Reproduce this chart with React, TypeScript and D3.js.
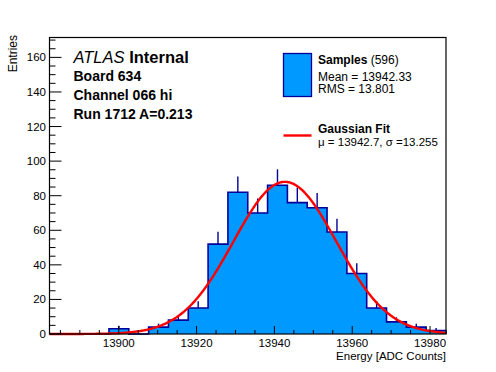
import * as d3 from 'd3';

// histogram contents, 20 equal bins across the axis range
const binCounts = [0, 0, 0, 3, 0, 4, 8, 15, 52, 82, 70, 86, 76, 73, 59, 35, 15, 7, 4, 2];
const xRange = [13882.2, 13984.1];
const xTickValues = [13900, 13920, 13940, 13960, 13980];
const yTickValues = [0, 20, 40, 60, 80, 100, 120, 140, 160];
const yMax = 171.5;

// fit parameters
const fitMu = 13942.7;
const fitSigma = 13.255;
const fitConst = 88;

const infoLines = ['Board 634', 'Channel 066 hi', 'Run 1712 A=0.213'];

const W = 496;
const H = 372;
const FONT = '"Liberation Sans", Arial, Helvetica, sans-serif';
const FILL = '#0099ff';
const LINE = '#000099';

export default function App() {
  const left = 49.5;
  const right = 446;
  const top = 37.5;
  const bottom = 334;

  const x = d3.scaleLinear().domain(xRange).range([left, right]);
  const y = d3.scaleLinear().domain([0, yMax]).range([bottom, top]);

  const nBins = binCounts.length;
  const bw = (xRange[1] - xRange[0]) / nBins;
  const edges = d3.range(nBins + 1).map(i => xRange[0] + i * bw);

  const hist = d3.path();
  hist.moveTo(x(edges[0]), y(0));
  binCounts.forEach((v, i) => {
    hist.lineTo(x(edges[i]), y(v));
    hist.lineTo(x(edges[i + 1]), y(v));
  });
  hist.lineTo(x(edges[nBins]), y(0));

  const fitPts = d3.range(0, 401).map(k => {
    const xv = xRange[0] + (k / 400) * (xRange[1] - xRange[0]);
    return [xv, fitConst * Math.exp(-0.5 * ((xv - fitMu) / fitSigma) ** 2)] as [number, number];
  });
  const fitLine = d3.line<[number, number]>().x(d => x(d[0])).y(d => y(d[1]));

  const xMinor = d3.range(13885, xRange[1], 5);
  const yMinor = d3.range(0, yMax, 5);

  return (
    <svg width={W} height={H} style={{ position: 'absolute', left: 0, top: 0, background: '#fff' }} fontFamily={FONT}>
      <rect width={W} height={H} fill="#fff" />
      <path d={hist.toString()} fill={FILL} stroke={LINE} strokeWidth={1.6} />
      {binCounts.map((v, i) =>
        v > 0 ? (
          <line key={i} x1={x(edges[i] + bw / 2)} x2={x(edges[i] + bw / 2)} y1={y(v)} y2={y(v + Math.sqrt(v))}
            stroke={LINE} strokeWidth={1.4} />
        ) : null
      )}
      <path d={fitLine(fitPts) || ''} fill="none" stroke="#ff0000" strokeWidth={2.4} />

      <rect x={left} y={top} width={right - left} height={bottom - top} fill="none" stroke="#000" strokeWidth={1.2} />

      {xMinor.map(t => {
        const major = xTickValues.includes(t);
        return <line key={t} x1={x(t)} x2={x(t)} y1={bottom} y2={bottom - (major ? 8 : 4)} stroke="#000" strokeWidth={1} />;
      })}
      {xTickValues.map(t => (
        <text key={t} x={x(t)} y={346.5} fontSize={11.5} textAnchor="middle">{t}</text>
      ))}
      {yMinor.map(t => {
        const major = yTickValues.includes(t);
        return <line key={t} x1={left} x2={left + (major ? 12 : 6)} y1={y(t)} y2={y(t)} stroke="#000" strokeWidth={1} />;
      })}
      {yTickValues.map(t => (
        <text key={t} x={46} y={y(t) + 4} fontSize={11.5} textAnchor="end">{t}</text>
      ))}

      <text x={right} y={359.5} fontSize={11.5} textAnchor="end">Energy [ADC Counts]</text>
      <text transform={`translate(16.5,35) rotate(-90)`} fontSize={12} textAnchor="end">Entries</text>

      <text x={73.5} y={62.5} fontSize={16.5}>
        <tspan fontStyle="italic">ATLAS</tspan>
        <tspan fontWeight="bold"> Internal</tspan>
      </text>
      {infoLines.map((s, i) => (
        <text key={s} x={73.5} y={81 + i * 19} fontSize={14} fontWeight="bold">{s}</text>
      ))}

      <rect x={283.5} y={53.5} width={28} height={43} fill={FILL} stroke={LINE} strokeWidth={1.3} />
      <text x={318} y={64} fontSize={12}>
        <tspan fontWeight="bold">Samples</tspan>
        <tspan> (596)</tspan>
      </text>
      <text x={318} y={80.5} fontSize={12}>Mean = 13942.33</text>
      <text x={318} y={93.3} fontSize={12}>RMS = 13.801</text>

      <line x1={283.5} x2={311.5} y1={135.5} y2={135.5} stroke="#ff0000" strokeWidth={2.4} />
      <text x={318} y={132.5} fontSize={12} fontWeight="bold">Gaussian Fit</text>
      <text x={318} y={145.5} fontSize={11.5}>μ = 13942.7, σ =13.255</text>
    </svg>
  );
}
